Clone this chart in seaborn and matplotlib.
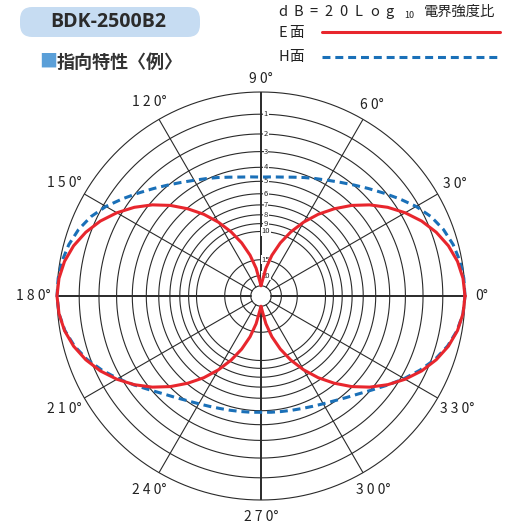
import numpy as np
import pandas as pd
import matplotlib
matplotlib.use('Agg')
import matplotlib.pyplot as plt
from matplotlib.patches import FancyBboxPatch
import seaborn as sns

# Data (relative field strength, 1.0 = outer circle)
angles_deg = list(range(0, 361, 5))

e_plane = [1.000, 0.994, 0.978, 0.951, 0.914, 0.869, 0.816, 0.758, 0.695, 0.628,
           0.558, 0.489, 0.418, 0.347, 0.277, 0.207, 0.138, 0.075, 0.050,
           0.075, 0.138, 0.207, 0.277, 0.347, 0.418, 0.489, 0.558, 0.628, 0.695,
           0.758, 0.816, 0.869, 0.914, 0.951, 0.978, 0.994, 1.000,
           0.994, 0.978, 0.951, 0.914, 0.869, 0.816, 0.758, 0.695, 0.628,
           0.558, 0.489, 0.418, 0.347, 0.277, 0.207, 0.138, 0.075, 0.050,
           0.075, 0.138, 0.207, 0.277, 0.347, 0.418, 0.489, 0.558, 0.628, 0.695,
           0.758, 0.816, 0.869, 0.914, 0.951, 0.978, 0.994, 1.000]

h_plane = [1.000, 0.998, 0.990, 0.975, 0.952, 0.920, 0.878, 0.830, 0.785, 0.745,
           0.710, 0.680, 0.655, 0.635, 0.618, 0.603, 0.592, 0.586, 0.583,
           0.586, 0.592, 0.603, 0.618, 0.635, 0.655, 0.680, 0.710, 0.745, 0.785,
           0.830, 0.878, 0.920, 0.952, 0.975, 0.990, 0.998, 1.000,
           0.994, 0.976, 0.947, 0.908, 0.860, 0.810, 0.760, 0.715, 0.678,
           0.650, 0.627, 0.610, 0.597, 0.587, 0.580, 0.575, 0.572, 0.570,
           0.572, 0.575, 0.580, 0.587, 0.597, 0.610, 0.627, 0.650, 0.678, 0.715,
           0.760, 0.810, 0.860, 0.908, 0.947, 0.976, 0.994, 1.000]

ring_db = [1, 2, 3, 4, 5, 6, 7, 8, 9, 10, 15, 20]
ring_labels = ['1', '2', '3', '4', '5', '6', '7', '8', '9', '10', '15', '20']
spoke_deg = [0, 30, 60, 90, 120, 150, 180, 210, 240, 270, 300, 330]
spoke_labels = ['0°', '3 0°', '6 0°', '9 0°', '1 2 0°', '1 5 0°',
                '1 8 0°', '2 1 0°', '2 4 0°', '2 7 0°', '3 0 0°', '3 3 0°']

RED = '#e8262d'
BLUE = '#1a70b8'
GRID = '#2a2a2a'
TXT = '#222222'

sns.set_style('white')
plt.rcParams['font.family'] = ['Noto Sans CJK JP', 'DejaVu Sans']

W, H = 506, 524
fig = plt.figure(figsize=(W / 100, H / 100), dpi=100)

# polar area: centre (261, 296) px, radius 204 px
cx, cy, R = 261, 296, 204
ax = fig.add_axes([(cx - R) / W, (H - cy - R) / H, 2 * R / W, 2 * R / H], projection='polar')
ax.set_ylim(0, 1)
ax.grid(False)
ax.set_xticks([])
ax.set_yticks([])
ax.spines['polar'].set_visible(False)
ax.patch.set_alpha(0)

# grid circles
circ = np.linspace(0, 2 * np.pi, 721)
for r in [1.0] + [10 ** (-d / 20) for d in ring_db] + [0.05]:
    ax.plot(circ, np.full_like(circ, r), color=GRID, lw=0.8, zorder=1, clip_on=False)

# spokes
for a in spoke_deg:
    lw = 1.4 if a % 90 == 0 else 0.8
    ax.plot([np.deg2rad(a)] * 2, [0.05, 1.0], color=GRID, lw=lw, zorder=1)

# ring labels along the 90 deg axis
for d, lbl in zip(ring_db, ring_labels):
    ax.annotate(lbl, xy=(np.pi / 2, 10 ** (-d / 20)), xytext=(5, 0), textcoords='offset pixels',
                ha='center', va='center', fontsize=5.5, color=TXT, zorder=3,
                bbox=dict(fc='white', ec='none', pad=0.3))

# angle labels
for a, lbl in zip(spoke_deg, spoke_labels):
    nd = len(lbl.replace(' ', '')) - 1
    rl = 1.065 + 0.035 * abs(np.cos(np.deg2rad(a))) + 0.017 * (nd - 2)
    ax.text(np.deg2rad(a), rl, lbl, ha='center', va='center', fontsize=10, color=TXT)

df = pd.DataFrame({'theta': np.deg2rad(angles_deg), 'e': e_plane, 'h': h_plane})
sns.lineplot(data=df, x='theta', y='h', ax=ax, sort=False, estimator=None,
             color=BLUE, lw=2.2, zorder=4, clip_on=False)
sns.lineplot(data=df, x='theta', y='e', ax=ax, sort=False, estimator=None,
             color=RED, lw=2.2, zorder=5, clip_on=False)
ax.lines[-2].set_dashes((2.6, 1.6))
ax.set_xlabel('')
ax.set_ylabel('')

# title box
fig.patches.append(FancyBboxPatch((20 / W, 1 - 37 / H), 180 / W, 30 / H,
                                  boxstyle='round,pad=0,rounding_size=0.024',
                                  transform=fig.transFigure, fc='#c6dcf2', ec='none'))
fig.text(108 / W, 1 - 22 / H, 'BDK-2500B2', ha='center', va='center',
         fontsize=14, fontweight='bold', family='Open Sans', color='#2b2b2b')
fig.text(39 / W, 1 - 62 / H, '■', ha='left', va='center', fontsize=13, color='#5a9fd8')
fig.text(57 / W, 1 - 62 / H, '指向特性〈例〉', ha='left', va='center',
         fontsize=13, fontweight='bold', color='#333333')

# legend block (top right), characters spaced out as in the reference
for i, ch in enumerate('dB=20Log'):
    fig.text((283 + i * 15.2) / W, 1 - 12 / H, ch, ha='center', va='center', fontsize=10.5, color=TXT)
fig.text(404 / W, 1 - 16 / H, '10', ha='left', va='center', fontsize=6.5, color=TXT)
fig.text(424 / W, 1 - 12 / H, '電界強度比', ha='left', va='center', fontsize=10.3, color=TXT)
for y, ch in [(33, 'E'), (57, 'H')]:
    fig.text(278 / W, 1 - y / H, ch, ha='left', va='center', fontsize=10.5, color=TXT)
    fig.text(289 / W, 1 - y / H, '面', ha='left', va='center', fontsize=10.5, color=TXT)
fig.add_artist(plt.Line2D([322 / W, 500 / W], [1 - 32 / H, 1 - 32 / H], color=RED, lw=2.2,
                          transform=fig.transFigure))
fig.add_artist(plt.Line2D([322 / W, 500 / W], [1 - 57 / H, 1 - 57 / H], color=BLUE, lw=2.2,
                          dashes=(2.6, 1.6), transform=fig.transFigure))

fig.savefig('out.png', dpi=100)
